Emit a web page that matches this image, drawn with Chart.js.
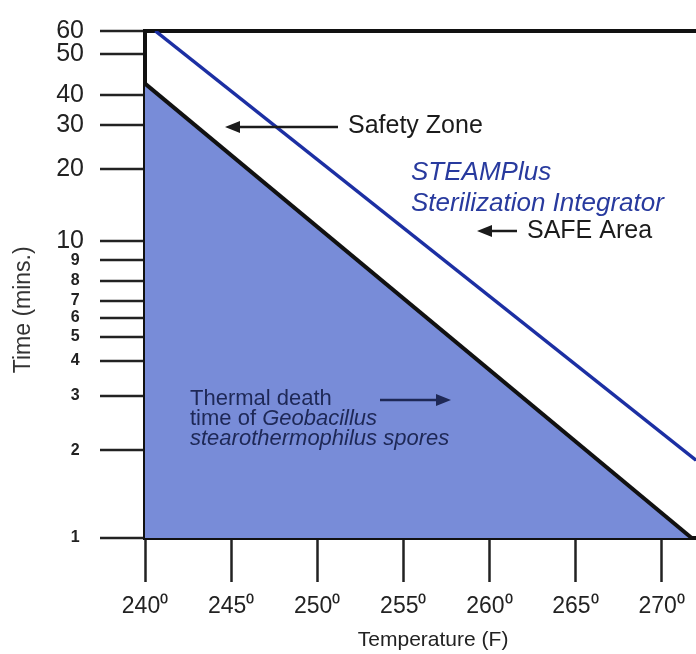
<!DOCTYPE html>
<html>
<head>
<meta charset="utf-8">
<script src="https://cdn.jsdelivr.net/npm/chart.js@4.4.1/dist/chart.umd.min.js"></script>
<style>
  html, body { margin: 0; padding: 0; background: #fff; }
  #chart { display: block; }
</style>
</head>
<body>
<canvas id="chart" width="696" height="654"></canvas>
<script>
const FONT = '"Liberation Sans", Arial, Helvetica, sans-serif';

// temperature axis (F)
const tempTicks = [240, 245, 250, 255, 260, 265, 270];
const tempRange = [240, 272];

// time axis (mins)
const timeTicks = [1, 2, 3, 4, 5, 6, 7, 8, 9, 10, 20, 30, 40, 50, 60];
const timeRange = [1, 60];

// thermal death time of the spores
const deathTemps = [240, 271.75];
const deathTimes = [42.5, 1];

// STEAMPlus integrator line
const integratorTemps = [240.6, 272];
const integratorTimes = [60, 1.85];

const toPoints = (xs, ys) => xs.map((x, i) => ({ x, y: ys[i] }));

// The printed time axis is not a true log scale: where each tick sits,
// as a fraction of the axis height from the bottom (same order as timeTicks).
const AXIS_MARKS = [0, 0.1729, 0.2809, 0.3497, 0.3969, 0.4342, 0.4676, 0.5069,
                    0.5481, 0.5855, 0.7269, 0.8153, 0.8743, 0.9548, 1];

class PrintedLogScale extends Chart.LogarithmicScale {
    decimalFor(value) {
        let i = 0;
        while (i < timeTicks.length - 2 && value > timeTicks[i + 1]) i++;
        const a = Math.log10(timeTicks[i]), b = Math.log10(timeTicks[i + 1]);
        const t = (Math.log10(value) - a) / (b - a);
        return AXIS_MARKS[i] + t * (AXIS_MARKS[i + 1] - AXIS_MARKS[i]);
    }
    getPixelForValue(value) {
        if (value === undefined || value === 0) value = this.min;
        if (value === null || isNaN(value)) return NaN;
        return this.getPixelForDecimal(this.decimalFor(value));
    }
    getValueForPixel(pixel) {
        const d = this.getDecimalForPixel(pixel);
        let i = 0;
        while (i < AXIS_MARKS.length - 2 && d > AXIS_MARKS[i + 1]) i++;
        const t = (d - AXIS_MARKS[i]) / (AXIS_MARKS[i + 1] - AXIS_MARKS[i]);
        const a = Math.log10(timeTicks[i]), b = Math.log10(timeTicks[i + 1]);
        return Math.pow(10, a + t * (b - a));
    }
}
PrintedLogScale.id = 'printedLog';
PrintedLogScale.defaults = Chart.LogarithmicScale.defaults;
Chart.register(PrintedLogScale);

function arrow(ctx, x1, y, x2, color) {
    const dir = x2 > x1 ? 1 : -1;
    ctx.strokeStyle = color;
    ctx.fillStyle = color;
    ctx.lineWidth = 2.5;
    ctx.beginPath();
    ctx.moveTo(x1, y);
    ctx.lineTo(x2 - dir * 10, y);
    ctx.stroke();
    ctx.beginPath();
    ctx.moveTo(x2, y);
    ctx.lineTo(x2 - dir * 15, y - 6);
    ctx.lineTo(x2 - dir * 15, y + 6);
    ctx.closePath();
    ctx.fill();
}

// text labels and arrows on top of the plot
const notesPlugin = {
    id: 'notes',
    afterDraw(chart) {
        const ctx = chart.ctx;
        ctx.save();
        ctx.textBaseline = 'middle';
        ctx.textAlign = 'left';

        ctx.fillStyle = '#1b1b1b';
        ctx.font = '25px ' + FONT;
        ctx.fillText('Safety Zone', 348, 126);
        arrow(ctx, 338, 127, 225, '#1b1b1b');

        ctx.fillStyle = '#283a9e';
        ctx.font = 'italic 26px ' + FONT;
        ctx.fillText('STEAMPlus', 411, 173);
        ctx.fillText('Sterilization Integrator', 411, 204);

        ctx.fillStyle = '#1b1b1b';
        ctx.font = '25px ' + FONT;
        ctx.fillText('SAFE Area', 527, 231);
        arrow(ctx, 517, 231, 477, '#1b1b1b');

        const navy = '#1e2856';
        ctx.fillStyle = navy;
        ctx.font = '22px ' + FONT;
        ctx.fillText('Thermal death', 190, 399);
        ctx.fillText('time of ', 190, 419);
        const w = ctx.measureText('time of ').width;
        ctx.font = 'italic 22px ' + FONT;
        ctx.fillText('Geobacillus', 190 + w, 419);
        ctx.fillText('stearothermophilus spores', 190, 439);
        arrow(ctx, 380, 400, 451, navy);

        ctx.restore();
    }
};

new Chart(document.getElementById('chart'), {
    type: 'line',
    data: {
        datasets: [{
            label: 'Thermal death time',
            data: toPoints(deathTemps, deathTimes),
            borderColor: '#111',
            borderWidth: 4,
            backgroundColor: '#788cd8',
            fill: 'start',
            pointRadius: 0
        }, {
            label: 'STEAMPlus Sterilization Integrator',
            data: toPoints(integratorTemps, integratorTimes),
            borderColor: '#1c2fa3',
            borderWidth: 3.5,
            fill: false,
            pointRadius: 0
        }]
    },
    options: {
        responsive: false,
        animation: false,
        layout: { padding: { top: 29, right: 0, left: 0, bottom: 0 } },
        plugins: {
            legend: { display: false },
            tooltip: { enabled: false }
        },
        scales: {
            x: {
                type: 'linear',
                min: tempRange[0],
                max: tempRange[1],
                z: 1,
                afterBuildTicks: s => { s.ticks = tempTicks.map(v => ({ value: v })); },
                afterFit: s => { s.height = 116; s.paddingLeft = 0; s.paddingRight = 0; },
                border: { color: '#111', width: 4 },
                grid: { drawOnChartArea: false, tickLength: 44, tickWidth: 2.5, tickColor: '#222' },
                ticks: {
                    color: '#222',
                    padding: 11,
                    maxRotation: 0,
                    autoSkip: false,
                    font: { family: FONT, size: 23 },
                    callback: v => v + '\u2070'
                },
                title: {
                    display: true,
                    text: '\u2003\u2009Temperature (F)',
                    color: '#222',
                    font: { family: FONT, size: 21 },
                    padding: { top: 0, bottom: 1 }
                }
            },
            y: {
                type: 'printedLog',
                min: timeRange[0],
                max: timeRange[1],
                z: 1,
                afterBuildTicks: s => { s.ticks = timeTicks.map(v => ({ value: v })); },
                afterFit: s => { s.width = 145; },
                border: { color: '#111', width: 4 },
                grid: {
                    drawOnChartArea: true,
                    color: c => c.tick && c.tick.value === 60 ? '#111' : 'rgba(0,0,0,0)',
                    lineWidth: c => c.tick && c.tick.value === 60 ? 4 : 0,
                    tickLength: 45,
                    tickWidth: 2.5,
                    tickColor: '#222'
                },
                ticks: {
                    color: '#222',
                    padding: 16,
                    autoSkip: false,
                    font: c => c.tick && c.tick.value >= 10
                        ? { family: FONT, size: 25 }
                        : { family: FONT, size: 16, weight: 'bold' },
                    callback: v => v >= 10 ? String(v) : v + ' '
                },
                title: {
                    display: true,
                    text: 'Time (mins.)\u2003\u2003\u2009',
                    color: '#333',
                    font: { family: FONT, size: 23 },
                    padding: { top: 10, bottom: 0 }
                }
            }
        }
    },
    plugins: [notesPlugin]
});
</script>
</body>
</html>
